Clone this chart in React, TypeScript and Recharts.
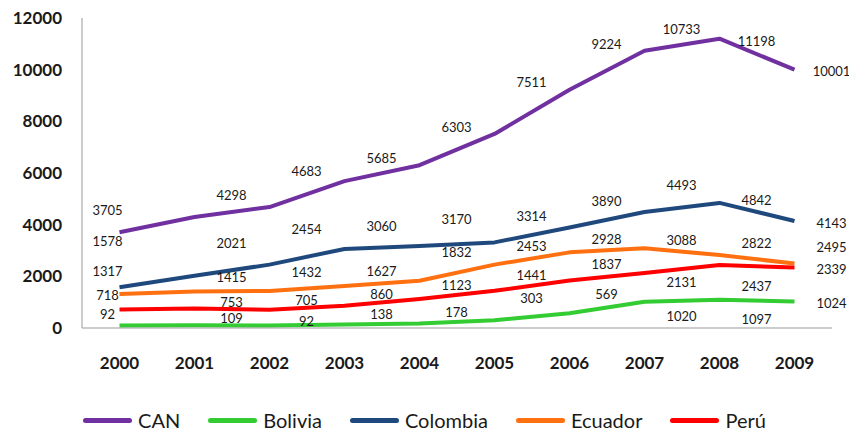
import React from "react";
import { LineChart, Line, XAxis, YAxis, LabelList, Legend } from "recharts";

const years = ["2000", "2001", "2002", "2003", "2004", "2005", "2006", "2007", "2008", "2009"];
const can = [3705, 4298, 4683, 5685, 6303, 7511, 9224, 10733, 11198, 10001];
const bolivia = [92, 109, 92, 138, 178, 303, 569, 1020, 1097, 1024];
const colombia = [1578, 2021, 2454, 3060, 3170, 3314, 3890, 4493, 4842, 4143];
const ecuador = [1317, 1415, 1432, 1627, 1832, 2453, 2928, 3088, 2822, 2495];
const peru = [718, 753, 705, 860, 1123, 1441, 1837, 2131, 2437, 2339];
const yTicks = [0, 2000, 4000, 6000, 8000, 10000, 12000];

const data = years.map((y, i) => ({
  year: y,
  CAN: can[i],
  Bolivia: bolivia[i],
  Colombia: colombia[i],
  Ecuador: ecuador[i],
  "Perú": peru[i],
}));

// label placement offsets (vertical, px) relative to each point, mimicking the original
const labelDy: Record<string, number[]> = {
  CAN: [-22, -22, -36, -23, -38, -52, -46, -22, 2, 1],
  Colombia: [-46, -33, -36, -23, -27, -26, -27, -27, -3, 2],
  Ecuador: [-23, -14, -19, -15, -29, -19, -13, -8, -12, -17],
  "Perú": [-14, -7, -10, -12, -14, -16, -17, 9, 21, 1],
  Bolivia: [-12, -7, -5, -10, -11, -22, -19, 14, 19, 1],
};

const series = [
  { key: "CAN", color: "#7030A0" },
  { key: "Bolivia", color: "#33CC33" },
  { key: "Colombia", color: "#1F497D" },
  { key: "Ecuador", color: "#FF7010" },
  { key: "Perú", color: "#FF0000" },
];

const FONT = "Lato, 'Noto Sans', sans-serif";

const makeLabel = (key: string) => (p: any) => {
  const i = p.index as number;
  const dx = i === 0 ? -12 : 37;
  const dy = labelDy[key][i] || 0;
  return (
    <text
      x={p.x + dx}
      y={p.y + dy}
      textAnchor="middle"
      dominantBaseline="central"
      fontFamily={FONT}
      fontSize={13}
      fill="#1a1a1a"
    >
      {p.value}
    </text>
  );
};

const LegendContent = () => (
  <div
    style={{
      display: "flex",
      justifyContent: "center",
      alignItems: "center",
      gap: 28,
      fontFamily: FONT,
      fontSize: 20,
      color: "#1a1a1a",
      width: 849,
    }}
  >
    {series.map((s) => (
      <div key={s.key} style={{ display: "flex", alignItems: "center", gap: 6 }}>
        <div style={{ width: 49, height: 5, borderRadius: 3, background: s.color }} />
        <span>{s.key}</span>
      </div>
    ))}
  </div>
);

export default function App() {
  return (
    <div style={{ position: "absolute", left: 0, top: 0, width: 849, height: 432, background: "#fff" }}>
      <LineChart width={849} height={432} data={data} margin={{ top: 18, right: 17, left: 0, bottom: 0 }}>
        <XAxis
          dataKey="year"
          height={104}
          padding={{ left: 37.5, right: 37.5 }}
          tickLine={false}
          axisLine={{ stroke: "#999", strokeWidth: 1 }}
          tickMargin={23}
          interval={0}
          tick={{ fontFamily: FONT, fontSize: 17, fontWeight: 700, fill: "#1a1a1a" }}
        />
        <YAxis
          width={82}
          domain={[0, 12000]}
          ticks={yTicks}
          interval={0}
          tickLine={false}
          axisLine={{ stroke: "#999", strokeWidth: 1 }}
          tickMargin={14}
          tick={{ fontFamily: FONT, fontSize: 17, fontWeight: 700, fill: "#1a1a1a" }}
        />
        {series.map((s) => (
          <Line
            key={s.key}
            dataKey={s.key}
            type="linear"
            stroke={s.color}
            strokeWidth={4}
            dot={false}
            activeDot={false}
            isAnimationActive={false}
            strokeLinejoin="round"
          >
            <LabelList dataKey={s.key} content={makeLabel(s.key)} />
          </Line>
        ))}
        <Legend
          layout="horizontal"
          verticalAlign="middle"
          content={<LegendContent />}
          wrapperStyle={{ position: "absolute", top: 408, left: 0, width: 849, height: 26 }}
        />
      </LineChart>
    </div>
  );
}
